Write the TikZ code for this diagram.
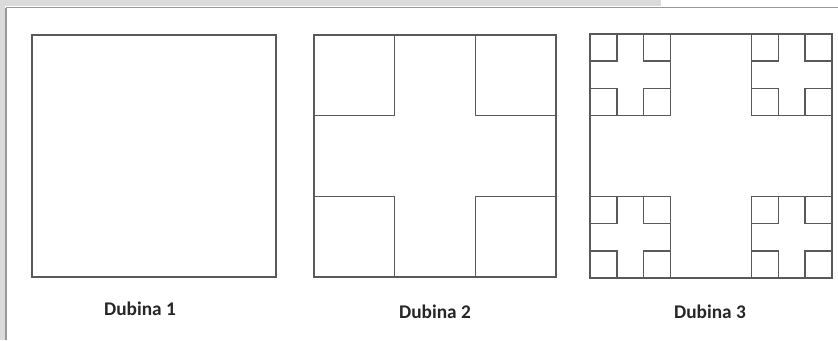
\documentclass[tikz,border=0pt]{standalone}
\usepackage{fontspec}
\setmainfont{Carlito}
\usetikzlibrary{positioning}

\begin{document}
\begin{tikzpicture}[x=0.75pt, y=-0.75pt,
    every node/.style={font=\bfseries\fontsize{14.5}{16}\selectfont, text=black!85},
    sq/.style={draw=black!65, line width=1pt}]
  \useasboundingbox (0,0) rectangle (838,340);
  % window frame
  \fill[black!14] (0,0) rectangle (661,6);
  \fill[black!14] (0,0) rectangle (5,340);
  \draw[black!40, line width=1.2pt] (6,7.5) -- (838,7.5);
  \draw[black!40, line width=1.2pt] (6,7.5) -- (6,340);
  % Dubina 1
  \begin{scope}[shift={(32,35)}, x=20.33pt, y=-20.17pt]
    \draw[sq] (0,0) rectangle (9,9);
  \end{scope}
  % Dubina 2
  \begin{scope}[shift={(314,35)}, x=20.17pt, y=-20.17pt]
    \draw[sq] (0,0) rectangle (9,9);
    \foreach \a in {0,6}{
      \foreach \b in {0,6}{
        \draw[sq] (\a,\b) rectangle ++(3,3);
      }
    }
  \end{scope}
  % Dubina 3
  \begin{scope}[shift={(590,34)}, x=20.17pt, y=-20.33pt]
    \draw[sq] (0,0) rectangle (9,9);
    \foreach \a in {0,6}{
      \foreach \b in {0,6}{
        \draw[sq] (\a,\b) rectangle ++(3,3);
        \foreach \c in {0,2}{
          \foreach \d in {0,2}{
            \draw[sq] (\a+\c,\b+\d) rectangle ++(1,1);
          }
        }
      }
    }
  \end{scope}
  % labels
  \node[anchor=base] (lab1) at (140,315) {Dubina 1};
  \node[anchor=base] (lab2) at (435,318) {Dubina 2};
  \node[anchor=base] (lab3) at (710,318) {Dubina 3};
\end{tikzpicture}
\end{document}
